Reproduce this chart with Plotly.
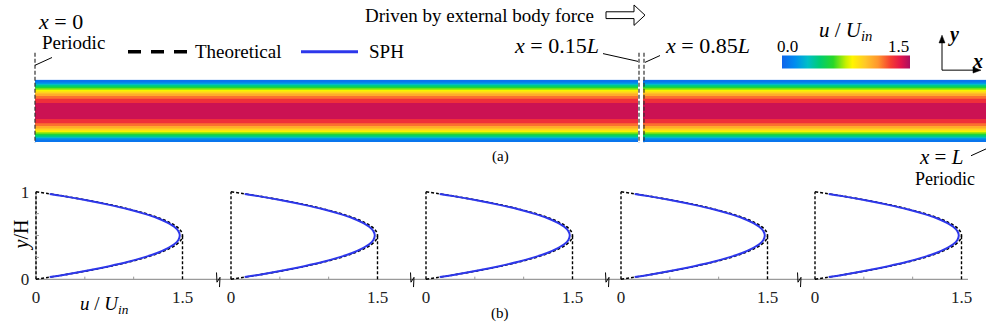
import plotly.graph_objects as go

W, H = 986, 330
FONT = "Liberation Serif, Times New Roman, serif"


def px(x):
    return x / W


def py(y):
    return 1 - y / H


# ---------------- data ----------------
# theoretical Poiseuille profile (b)
y_theory = [0.0, 0.02, 0.05, 0.1, 0.15, 0.2, 0.25, 0.3, 0.35, 0.4, 0.45, 0.5,
            0.55, 0.6, 0.65, 0.7, 0.75, 0.8, 0.85, 0.9, 0.95, 0.98, 1.0]
u_theory = [0.0, 0.118, 0.285, 0.54, 0.765, 0.96, 1.125, 1.26, 1.365, 1.44, 1.485, 1.5,
            1.485, 1.44, 1.365, 1.26, 1.125, 0.96, 0.765, 0.54, 0.285, 0.118, 0.0]
# SPH profile (b)
y_sph = [0.025, 0.05, 0.1, 0.15, 0.2, 0.25, 0.3, 0.35, 0.4, 0.45, 0.5,
         0.55, 0.6, 0.65, 0.7, 0.75, 0.8, 0.85, 0.9, 0.95, 0.975]
u_sph = [0.14, 0.28, 0.53, 0.75, 0.945, 1.105, 1.24, 1.34, 1.415, 1.458, 1.472,
         1.458, 1.415, 1.34, 1.24, 1.105, 0.945, 0.75, 0.53, 0.28, 0.14]
panel_names = ["x = 0", "x = 0.15L", "x = 0.5L", "x = 0.85L", "x = L"]

# velocity field across the channel (a)
field_y = [0.0, 0.04, 0.08, 0.12, 0.16, 0.2, 0.25, 0.3, 0.35, 0.4, 0.45, 0.5,
           0.55, 0.6, 0.65, 0.7, 0.75, 0.8, 0.84, 0.88, 0.92, 0.96, 1.0]
field_u = [0.05, 0.12, 0.33, 0.55, 0.75, 0.93, 1.1, 1.24, 1.34, 1.42, 1.46, 1.47,
           1.46, 1.42, 1.34, 1.24, 1.1, 0.93, 0.75, 0.55, 0.33, 0.12, 0.05]
left_x = [0.0, 0.15]
right_x = [0.85, 1.0]
cbar_range = [0.0, 1.5]
cbar_labels = ["0.0", "1.5"]

colorscale = [
    [0.0, "rgb(15,100,235)"],
    [0.1, "rgb(0,140,240)"],
    [0.2, "rgb(0,190,200)"],
    [0.3, "rgb(0,205,110)"],
    [0.4, "rgb(40,215,40)"],
    [0.5, "rgb(200,240,0)"],
    [0.55, "rgb(255,245,0)"],
    [0.65, "rgb(255,200,40)"],
    [0.75, "rgb(255,150,45)"],
    [0.85, "rgb(245,60,50)"],
    [0.93, "rgb(225,20,75)"],
    [1.0, "rgb(170,15,95)"],
]

fig = go.Figure()

# ---------------- (a) velocity field ----------------
zfield = [[u, u] for u in field_u]
for i, xs in enumerate([left_x, right_x]):
    ax = 6 + i
    fig.add_trace(go.Contour(
        x=xs, y=field_y, z=zfield, xaxis=f"x{ax}", yaxis=f"y{ax}",
        colorscale=colorscale, zmin=cbar_range[0], zmax=cbar_range[1],
        autocontour=False,
        contours=dict(start=0.0, end=1.5, size=0.125, coloring="fill", showlines=False),
        line=dict(width=0), showscale=False, hoverinfo="skip",
    ))
    fig.update_layout(**{
        f"xaxis{ax}": dict(domain=[px(35), px(638)] if i == 0 else [px(643), 1.0],
                           range=[xs[0], xs[-1]], visible=False, anchor=f"y{ax}"),
        f"yaxis{ax}": dict(domain=[py(142), py(78)], range=[0, 1], visible=False,
                           anchor=f"x{ax}"),
    })

# colorbar carrier
fig.add_trace(go.Scatter(
    x=[0.05], y=[0.5], xaxis="x6", yaxis="y6", mode="markers",
    marker=dict(size=1, opacity=0, color=[cbar_range[0]], cmin=cbar_range[0], cmax=cbar_range[1],
                colorscale=colorscale, showscale=True,
                colorbar=dict(orientation="h", x=px(846), xanchor="center", y=py(60),
                              yanchor="middle", len=128, lenmode="pixels", thickness=13,
                              thicknessmode="pixels", outlinewidth=0, showticklabels=False,
                              ticks="", xpad=0, ypad=0)),
    hoverinfo="skip", showlegend=False,
))

# ---------------- (b) profiles ----------------
x0s = [36, 231, 426, 621, 815]
ppu = 146.5 / 1.5
xr = [-0.06, 1.62]
yr = [-0.06, 1.06]
ppu_y = 90.0
y_bot = 283 + (0 - yr[0]) * ppu_y
y_top = 193 - (yr[1] - 1) * ppu_y

umax = max(u_theory)
ymax = y_theory[u_theory.index(umax)]

for k, x0 in enumerate(x0s):
    xa = "x" if k == 0 else f"x{k + 1}"
    dash = dict(color="black", width=1.4, dash="3px,2px")
    fig.add_trace(go.Scatter(x=[0, 0], y=[y_theory[0], y_theory[-1]], xaxis=xa, yaxis="y",
                             mode="lines", line=dash, showlegend=False, hoverinfo="skip"))
    fig.add_trace(go.Scatter(x=[umax, umax], y=[0, ymax], xaxis=xa, yaxis="y",
                             mode="lines", line=dash, showlegend=False, hoverinfo="skip"))
    fig.add_trace(go.Scatter(x=u_theory, y=y_theory, xaxis=xa, yaxis="y", mode="lines",
                             line=dict(color="black", width=1.6, dash="3px,2px", shape="spline"),
                             showlegend=False, hoverinfo="skip"))
    fig.add_trace(go.Scatter(x=u_sph, y=y_sph, xaxis=xa, yaxis="y", mode="lines",
                             line=dict(color="rgb(45,55,235)", width=2, shape="spline"),
                             name=panel_names[k], showlegend=False, hoverinfo="skip"))
    key = "xaxis" if k == 0 else f"xaxis{k + 1}"
    fig.layout[key] = dict(
        domain=[px(x0 + xr[0] * ppu), px(x0 + xr[1] * ppu)], range=xr, anchor="y",
        showgrid=False, zeroline=False, showline=False, ticks="",
        tickvals=[0, 1.5], ticktext=["0", "1.5"],
        tickfont=dict(family=FONT, size=17, color="#222"),
    )

fig.layout["yaxis"] = dict(
    domain=[py(y_bot), py(y_top)], range=yr, anchor="x",
    showgrid=False, zeroline=False, showline=False, ticks="",
    tickvals=[0, 1], ticktext=["0", "1"],
    tickfont=dict(family=FONT, size=17, color="#222"),
)

shapes = []
# bottom axis line across panels
shapes.append(dict(type="line", xref="paper", yref="y", x0=px(36), x1=px(968), y0=0, y1=0,
                   line=dict(color="#9a9a9a", width=1.2), layer="below"))
# left y axis of panel 1
shapes.append(dict(type="line", xref="x", yref="y", x0=0, x1=0, y0=0, y1=1,
                   line=dict(color="#9a9a9a", width=1.2), layer="below"))
for yy in [0.25, 0.5, 0.75]:
    shapes.append(dict(type="line", xref="x", yref="y", x0=0, x1=0.03, y0=yy, y1=yy,
                       line=dict(color="#9a9a9a", width=1)))
for k in range(5):
    xa = "x" if k == 0 else f"x{k + 1}"
    for xx in [0.5, 1.0]:
        shapes.append(dict(type="line", xref=xa, yref="y", x0=xx, x1=xx, y0=0, y1=0.03,
                           line=dict(color="#9a9a9a", width=1)))
# axis break marks
for bx in [218, 412, 607, 799]:
    pts = [(bx - 1.5, 276), (bx - 1, 286), (bx + 2, 281), (bx + 1.5, 291)]
    path = "M " + " L ".join(f"{px(a)},{py(b)}" for a, b in pts)
    shapes.append(dict(type="path", xref="paper", yref="paper", path=path,
                       line=dict(color="black", width=1)))

# dashed section lines on (a)
for lx in [35, 639, 644]:
    shapes.append(dict(type="line", xref="paper", yref="paper", x0=px(lx), x1=px(lx),
                       y0=py(50), y1=py(143), line=dict(color="#333", width=1.2, dash="4px,2px")))
# leader lines
for (a, b, c, d) in [(35, 63, 52, 55), (603, 51, 638, 59), (645, 60, 660, 53), (971, 156, 986, 149)]:
    shapes.append(dict(type="line", xref="paper", yref="paper", x0=px(a), y0=py(b),
                       x1=px(c), y1=py(d), line=dict(color="black", width=1)))
# legend
shapes.append(dict(type="line", xref="paper", yref="paper", x0=px(128), x1=px(187),
                   y0=py(49), y1=py(49), line=dict(color="black", width=3.5, dash="13px,10px")))
shapes.append(dict(type="line", xref="paper", yref="paper", x0=px(301), x1=px(358),
                   y0=py(49), y1=py(49), line=dict(color="rgb(45,55,235)", width=3)))
# hollow arrow for body force
arrow_pts = [(606, 8), (634, 8), (634, 1), (645, 11.5), (634, 22), (634, 15), (606, 15)]
path = "M " + " L ".join(f"{px(a)},{py(b)}" for a, b in arrow_pts) + " Z"
shapes.append(dict(type="path", xref="paper", yref="paper", path=path,
                   fillcolor="white", line=dict(color="black", width=1)))
# coordinate system arrows
shapes.append(dict(type="path", xref="paper", yref="paper",
                   path=f"M {px(942)},{py(37)} L {px(942)},{py(68)} L {px(976)},{py(68)}",
                   line=dict(color="black", width=1)))
shapes.append(dict(type="path", xref="paper", yref="paper",
                   path=f"M {px(939)},{py(40)} L {px(942)},{py(32)} L {px(945)},{py(40)} Z",
                   fillcolor="black", line=dict(color="black", width=0.5)))
shapes.append(dict(type="path", xref="paper", yref="paper",
                   path=f"M {px(973)},{py(65)} L {px(981)},{py(68)} L {px(973)},{py(71)} Z",
                   fillcolor="black", line=dict(color="black", width=0.5)))

annotations = []


def txt(x, y, s, size=19, xanchor="center", angle=0):
    annotations.append(dict(xref="paper", yref="paper", x=px(x), y=py(y), text=s,
                            showarrow=False, xanchor=xanchor, yanchor="middle",
                            textangle=angle,
                            font=dict(family=FONT, size=size, color="black")))


txt(60, 18, "<i>x</i> = 0", 22)
txt(73, 40, "Periodic", 19)
txt(193, 49, "Theoretical", 19, "left")
txt(367, 49, "SPH", 19, "left")
txt(363, 12, "Driven by external body force", 19, "left")
txt(556, 43, "<i>x</i> = 0.15<i>L</i>", 22)
txt(707, 43, "<i>x</i> = 0.85<i>L</i>", 22)
txt(845, 28, "<i>u</i> / <i>U</i><sub><i>in</i></sub>", 21)
txt(787, 44, cbar_labels[0], 17)
txt(898, 44, cbar_labels[1], 17)
txt(953, 31, "<i><b>y</b></i>", 20)
txt(977, 59, "<i><b>x</b></i>", 20)
txt(500, 157, "(a)", 15)
txt(941, 157, "<i>x</i> = <i>L</i>", 21)
txt(945, 180, "Periodic", 18)
txt(500, 318, "(b)", 15)
txt(104, 309, "<i>u</i> / <i>U</i><sub><i>in</i></sub>", 19)
txt(22, 238, "<i>y</i>/H", 20, angle=-90)

fig.update_layout(
    width=W, height=H, margin=dict(l=0, r=0, t=0, b=0),
    paper_bgcolor="white", plot_bgcolor="rgba(0,0,0,0)",
    showlegend=False, shapes=shapes, annotations=annotations,
    font=dict(family=FONT),
)

fig.write_html("out.html")
